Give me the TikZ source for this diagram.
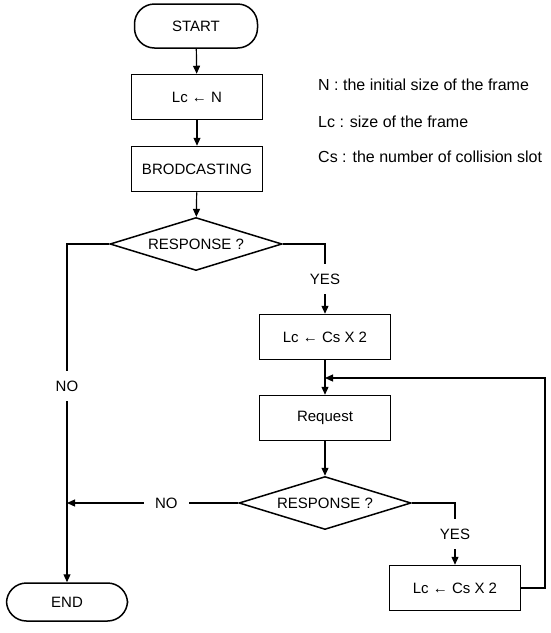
\documentclass[tikz,border=0pt]{standalone}
\usepackage{fontspec}
\setmainfont{Liberation Sans}
\setsansfont{Liberation Sans}
\usetikzlibrary{arrows.meta,shapes}

\begin{document}
\begin{tikzpicture}[x=1pt,y=-1pt]
    \sffamily
    \fontsize{15}{18}\selectfont

    \tikzset{ST/.style={draw=black,solid,line width=1.2pt}}
    \tikzset{AR/.style={ST,-{Triangle[length=8pt,width=7pt]}}}
    \tikzset{TN/.style={draw,line width=1.5pt,rounded corners=20pt,minimum width=123pt,minimum height=44pt}}
    \tikzset{PB/.style={draw,line width=1.5pt,minimum width=131pt,minimum height=45pt}}
    \tikzset{DC/.style={draw,line width=1.5pt,diamond,aspect=3.2,inner sep=0pt,minimum width=172pt,minimum height=53pt}}
    \tikzset{LV/.style={fill=white,inner xsep=3pt,inner ysep=10pt}}
    \tikzset{LH/.style={fill=white,inner xsep=11pt,inner ysep=3pt}}
    \tikzset{LG/.style={anchor=west,inner sep=0pt,font=\fontsize{16}{19}\selectfont}}

    \useasboundingbox (0,0) rectangle (551,633);

    \node (start) [TN] at (196, 26) {START};
    	\node (init) [PB] at (197, 97) {Lc ← N};
    	\node (bcast) [PB] at (197, 169) {BRODCASTING};
    	\node (resp1) [DC] at (196, 244) {RESPONSE ?};
    		\node (end) [TN,minimum width=121pt,minimum height=38pt] at (67, 602) {END};
    		\node (dbl1) [PB] at (325, 337) {Lc ← Cs X 2};
    		\node (req) [PB] at (325, 418) {Request};
    		\node (resp2) [DC] at (325, 503) {RESPONSE ?};
    			\node (dbl2) [PB] at (455, 588) {Lc ← Cs X 2};

    \node (keyn) [LG] at (318, 85) {N : the initial size of the frame};
    \node (keylc) [LG] at (318, 122) {Lc : size of the frame};
    \node (keycs) [LG] at (318, 157) {Cs : the number of collision slot};

    \coordinate (merge) at (325, 378);
    \coordinate (loop) at (545, 378);
    \coordinate (join) at (67, 503);

    \path[AR] (start) -- (init);
    \path[AR] (init) -- (bcast);
    \path[AR] (bcast) -- (resp1);
    	\path[AR] (resp1.west) -| node[LV,pos=0.71] {NO} (end.north);
    	\path[AR] (resp1.east) -| node[LV,pos=0.75] {YES} (dbl1.north);
    		\path[AR] (dbl1) -- (req);
    		\path[AR] (req) -- (resp2);
    		\path[AR] (resp2.west) -- node[LH,pos=0.42] {NO} (join);
    		\path[AR] (resp2.east) -| node[LV,pos=0.75] {YES} (dbl2.north);
    			\path[AR] (dbl2.east) -| (loop) -- (merge);
\end{tikzpicture}
\end{document}
